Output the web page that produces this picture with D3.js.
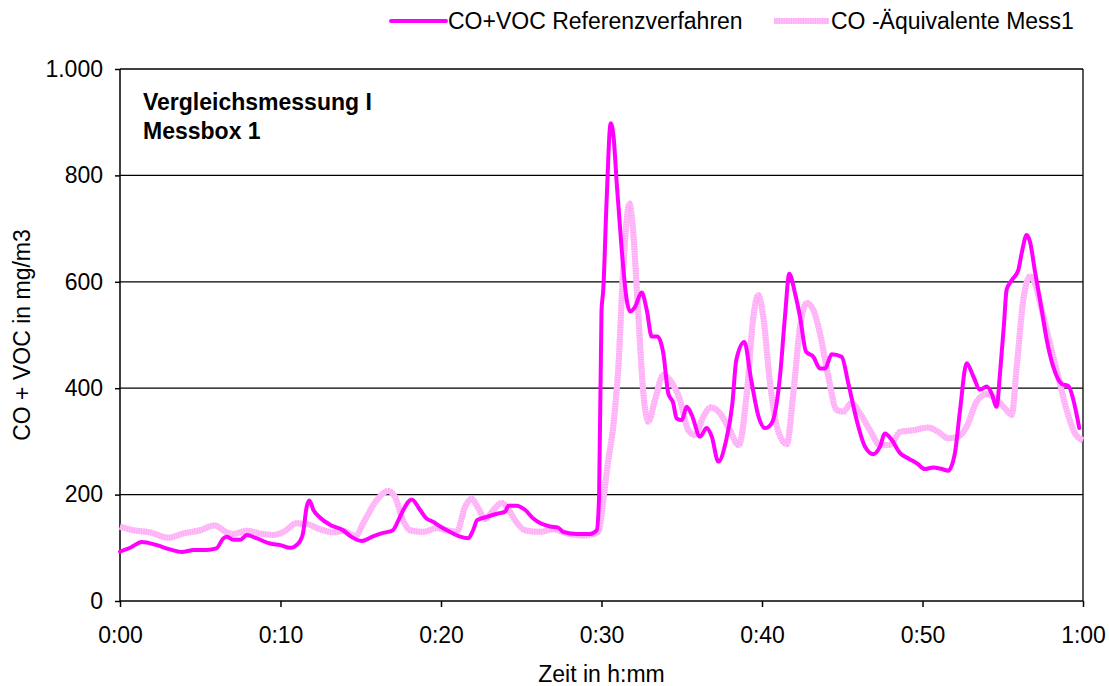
<!DOCTYPE html>
<html>
<head>
<meta charset="utf-8">
<script src="https://cdn.jsdelivr.net/npm/d3@7"></script>
<style>
  body { margin: 0; background: #fff; }
  svg { display: block; font-family: "Liberation Sans", Arial, sans-serif; }
</style>
</head>
<body>
<svg id="chart" width="1109" height="686"></svg>
<script>
// Reference method (CO+VOC), time in minutes since start
const refTime = [0, 0.7, 1.35, 2.3, 3.1, 3.85, 4.6, 5.4, 6.0, 6.45, 6.65, 7.05, 7.5, 7.9, 8.5, 9.35, 10.0, 10.6, 11.1, 11.4, 11.63, 11.8, 12.05, 12.45, 13.1, 13.9, 14.4, 15.05, 15.8, 16.4, 17.0, 17.35, 17.65, 18.17, 18.7, 19.1, 19.5, 19.95, 20.55, 21.2, 21.7, 22.0, 22.25, 22.85, 23.5, 24.0, 24.2, 24.7, 25.25, 25.75, 26.2, 26.8, 27.3, 27.6, 28.45, 29.3, 29.7, 29.85, 30.0, 30.11, 30.32, 30.57, 30.75, 30.95, 31.26, 31.57, 31.78, 32.09, 32.5, 32.82, 33.13, 33.48, 33.85, 34.16, 34.47, 34.68, 35.0, 35.31, 35.62, 36.14, 36.55, 36.87, 37.28, 37.75, 38.15, 38.4, 38.9, 39.3, 39.8, 40.19, 40.6, 41.12, 41.43, 41.7, 42.06, 42.37, 42.74, 43.2, 43.61, 43.93, 44.34, 44.96, 45.38, 45.9, 46.42, 46.94, 47.35, 47.66, 48.08, 48.6, 49.12, 49.64, 50.16, 50.67, 51.2, 51.6, 52.02, 52.34, 52.75, 53.17, 53.58, 54.0, 54.31, 54.62, 54.83, 55.08, 55.24, 55.56, 55.97, 56.18, 56.49, 56.7, 57.01, 57.43, 57.74, 58.15, 58.68, 59.1, 59.4, 59.77];
const refValue = [93, 101, 111, 105, 97, 92, 96, 96, 99, 118, 121, 115, 115, 124, 118, 108, 105, 100, 108, 127, 177, 189, 171, 157, 143, 133, 121, 113, 122, 128, 133, 152, 171, 191, 171, 155, 149, 140, 130, 121, 118, 133, 152, 158, 164, 168, 179, 179, 171, 155, 146, 140, 138, 130, 126, 126, 133, 196, 545, 585, 754, 898, 873, 785, 660, 566, 544, 553, 580, 547, 497, 497, 466, 390, 372, 343, 340, 365, 350, 309, 325, 309, 262, 300, 370, 453, 487, 420, 345, 325, 334, 422, 534, 615, 578, 534, 469, 459, 437, 437, 464, 459, 409, 340, 290, 276, 290, 315, 303, 278, 268, 259, 248, 251, 248, 245, 278, 359, 447, 422, 397, 403, 390, 365, 428, 522, 585, 603, 622, 654, 688, 675, 619, 547, 491, 440, 408, 404, 378, 325];

// CO equivalent, measuring box 1
const messTime = [0, 0.83, 1.87, 3.0, 3.95, 5.0, 5.9, 6.65, 7.05, 7.9, 8.7, 9.55, 10.2, 11.0, 11.6, 12.45, 13.3, 13.9, 14.65, 15.25, 16.0, 16.7, 17.13, 17.55, 18.07, 18.9, 19.73, 20.36, 20.98, 21.5, 21.9, 22.33, 22.74, 23.26, 23.78, 24.09, 24.61, 25.23, 26.17, 27.0, 27.83, 28.87, 29.8, 30.05, 30.4, 30.74, 31.05, 31.36, 31.74, 31.98, 32.3, 32.61, 32.92, 33.33, 33.85, 34.27, 34.89, 35.41, 35.83, 36.34, 36.8, 37.38, 38.0, 38.55, 39.05, 39.46, 39.77, 40.08, 40.5, 41.02, 41.54, 41.95, 42.37, 42.79, 43.2, 43.61, 44.13, 44.65, 45.06, 45.58, 46.1, 46.73, 47.35, 47.98, 48.6, 49.43, 50.36, 50.98, 51.61, 52.24, 52.75, 53.38, 54.0, 54.62, 55.14, 55.56, 55.87, 56.28, 56.7, 57.01, 57.43, 57.94, 58.46, 58.98, 59.5, 60];
const messValue = [140, 133, 129, 119, 127, 133, 142, 129, 126, 132, 127, 124, 130, 146, 145, 135, 129, 132, 122, 152, 190, 207, 196, 158, 133, 130, 137, 133, 130, 177, 192, 174, 154, 171, 184, 177, 152, 133, 130, 135, 127, 123, 130, 175, 260, 330, 440, 628, 747, 691, 534, 390, 337, 378, 425, 415, 378, 321, 312, 346, 364, 353, 321, 293, 390, 534, 575, 534, 409, 318, 295, 390, 516, 560, 547, 503, 422, 359, 356, 372, 353, 321, 293, 293, 318, 321, 326, 318, 306, 309, 328, 375, 389, 378, 362, 350, 440, 566, 610, 597, 547, 484, 422, 359, 315, 302];

const seriesNames = ["CO+VOC Referenzverfahren", "CO -Äquivalente Mess1"];
const xTickValues = [0, 10, 20, 30, 40, 50, 60];
const yTickValues = [0, 200, 400, 600, 800, 1000];
const titleLines = ["Vergleichsmessung I", "Messbox 1"];
const xAxisTitle = "Zeit in h:mm";
const yAxisTitle = "CO + VOC in mg/m3";

const svg = d3.select("#chart");
const plot = { left: 120, right: 1083, top: 69, bottom: 601 };
const FONT = 23;

const x = d3.scaleLinear().domain([0, 60]).range([plot.left, plot.right]);
const y = d3.scaleLinear().domain([0, 1000]).range([plot.bottom, plot.top]);

const de = d3.formatLocale({ decimal: ",", thousands: ".", grouping: [3], currency: ["", " €"] });
const fmtY = de.format(",");
const fmtX = m => `${Math.floor(m / 60)}:${String(m % 60).padStart(2, "0")}`;

// horizontal gridlines
svg.append("g")
  .selectAll("line")
  .data(yTickValues.filter(v => v > 0))
  .join("line")
  .attr("x1", plot.left).attr("x2", plot.right)
  .attr("y1", d => y(d)).attr("y2", d => y(d))
  .attr("stroke", "#000").attr("stroke-width", 1.3);

// right border of the plot area
svg.append("line")
  .attr("x1", plot.right).attr("x2", plot.right)
  .attr("y1", plot.top).attr("y2", plot.bottom)
  .attr("stroke", "#000").attr("stroke-width", 1.3);

// axes
const yAxis = svg.append("g")
  .attr("transform", `translate(${plot.left},0)`)
  .call(d3.axisLeft(y).tickValues(yTickValues).tickFormat(fmtY).tickSize(5).tickPadding(12));
const xAxis = svg.append("g")
  .attr("transform", `translate(0,${plot.bottom})`)
  .call(d3.axisBottom(x).tickValues(xTickValues).tickFormat(fmtX).tickSize(6).tickPadding(20));

[yAxis, xAxis].forEach(g => {
  g.select(".domain").attr("stroke", "#000").attr("stroke-width", 1.5);
  g.selectAll(".tick line").attr("stroke", "#000").attr("stroke-width", 1.5);
  g.selectAll(".tick text")
    .attr("fill", "#000")
    .style("font-size", FONT + "px")
    .style("font-family", '"Liberation Sans", Arial, sans-serif');
});
yAxis.select(".domain").attr("d", `M0,${plot.bottom}V${plot.top}`);
xAxis.select(".domain").attr("d", `M${plot.left},0H${plot.right}`);

// series
const line = d3.line()
  .x(d => x(d[0]))
  .y(d => y(d[1]))
  .curve(d3.curveMonotoneX);

const refData = d3.zip(refTime, refValue);
const messData = d3.zip(messTime, messValue);

function drawMess(sel, d) {
  sel.append("path").attr("d", d)
    .attr("fill", "none").attr("stroke", "#ffc4fb").attr("stroke-width", 6)
    .attr("stroke-linejoin", "round");
  sel.append("path").attr("d", d)
    .attr("fill", "none").attr("stroke", "#ffaaf5").attr("stroke-width", 6)
    .attr("stroke-dasharray", "1.2,1.2");
}
function drawRef(sel, d) {
  sel.append("path").attr("d", d)
    .attr("fill", "none").attr("stroke", "#ff00ff").attr("stroke-width", 4)
    .attr("stroke-linejoin", "round").attr("stroke-linecap", "round");
}

drawMess(svg.append("g"), line(messData));
drawRef(svg.append("g"), line(refData));

// annotation inside the plot
svg.append("g")
  .selectAll("text")
  .data(titleLines)
  .join("text")
  .attr("x", 143)
  .attr("y", (d, i) => 110 + i * 29)
  .attr("font-size", FONT)
  .attr("font-weight", "bold")
  .text(d => d);

// axis titles
svg.append("text")
  .attr("x", (plot.left + plot.right) / 2)
  .attr("y", 682)
  .attr("text-anchor", "middle")
  .attr("font-size", FONT)
  .text(xAxisTitle);

svg.append("text")
  .attr("transform", `translate(30,${(plot.top + plot.bottom) / 2}) rotate(-90)`)
  .attr("text-anchor", "middle")
  .attr("font-size", FONT)
  .text(yAxisTitle);

// legend
const legend = svg.append("g");
const legendItems = [
  { name: seriesNames[0], x0: 391, draw: drawRef },
  { name: seriesNames[1], x0: 774, draw: drawMess }
];
legendItems.forEach(it => {
  const g = legend.append("g");
  it.draw(g, `M${it.x0},21H${it.x0 + 55}`);
  g.append("text")
    .attr("x", it.x0 + 57)
    .attr("y", 29)
    .attr("font-size", FONT)
    .text(it.name);
});
</script>
</body>
</html>
